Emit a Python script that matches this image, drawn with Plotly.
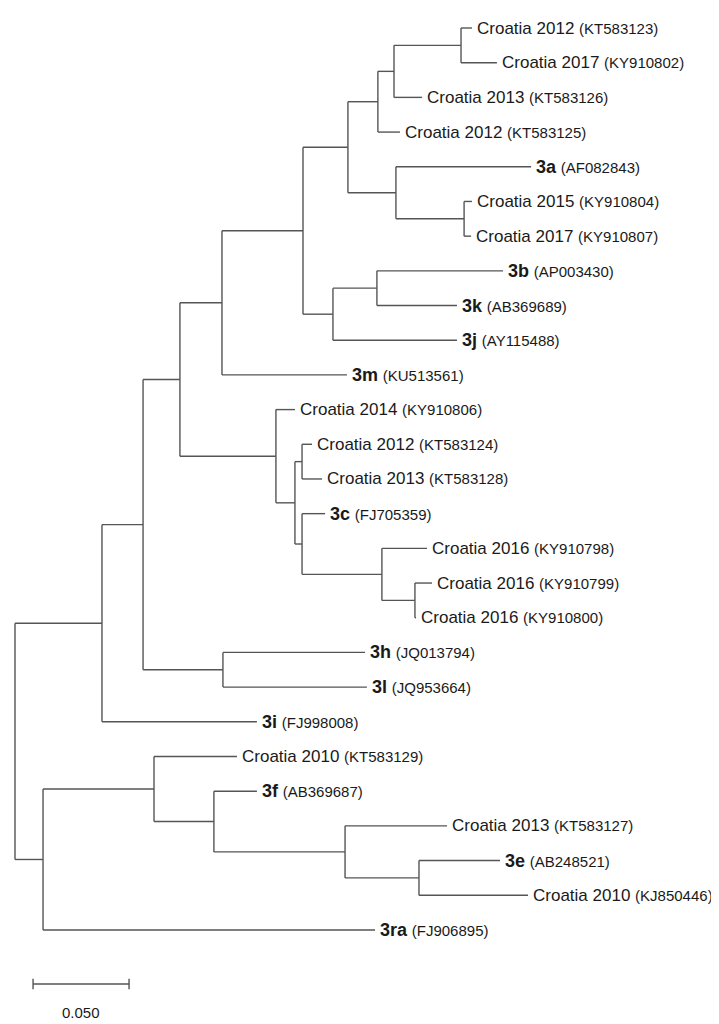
import plotly.graph_objects as go

# ---- tree data: node, parent, branch length (substitutions/site) ----
node_names = [
    "R", "N1", "N2", "N3", "N4", "N5", "N6", "N7", "N8", "N9",
    "KT583123", "KY910802", "KT583126", "KT583125",
    "N10", "3a", "N11", "KY910804", "KY910807",
    "N12", "N13", "3b", "3k", "3j", "3m",
    "N14", "KY910806", "N15", "N16", "KT583124", "KT583128",
    "N17", "3c", "N18", "KY910798", "N19", "KY910799", "KY910800",
    "N20", "3h", "3l", "3i",
    "N21", "N22", "KT583129", "N23", "3f", "N24", "KT583127",
    "N25", "3e", "KJ850446", "3ra",
]
node_parents = [
    None, "R", "N1", "N2", "N3", "N4", "N5", "N6", "N7", "N8",
    "N9", "N9", "N8", "N7",
    "N6", "N10", "N10", "N11", "N11",
    "N5", "N12", "N13", "N13", "N12", "N4",
    "N3", "N14", "N14", "N15", "N16", "N16",
    "N15", "N17", "N17", "N18", "N18", "N19", "N19",
    "N2", "N20", "N20", "N1",
    "R", "N21", "N22", "N22", "N23", "N23", "N24",
    "N24", "N25", "N25", "N21",
]
branch_lengths = [
    0.0, 0.0453, 0.0214, 0.0192, 0.0219, 0.0422, 0.0234, 0.0156, 0.0084, 0.0349,
    0.0057, 0.0187, 0.0146, 0.0115,
    0.0250, 0.0704, 0.0355, 0.0041, 0.0036,
    0.0156, 0.0229, 0.0657, 0.0417, 0.0646, 0.0651,
    0.0500, 0.0099, 0.0099, 0.0037, 0.0052, 0.0104,
    0.0037, 0.0120, 0.0416, 0.0235, 0.0172, 0.0089, 0.0006,
    0.0416, 0.0740, 0.0750, 0.0807,
    0.0146, 0.0578, 0.0432, 0.0312, 0.0224, 0.0683, 0.0531,
    0.0385, 0.0422, 0.0568, 0.1729,
]

# leaves in display order (top to bottom) with label parts
leaf_order = [
    "KT583123", "KY910802", "KT583126", "KT583125", "3a", "KY910804", "KY910807",
    "3b", "3k", "3j", "3m", "KY910806", "KT583124", "KT583128", "3c",
    "KY910798", "KY910799", "KY910800", "3h", "3l", "3i", "KT583129", "3f",
    "KT583127", "3e", "KJ850446", "3ra",
]
leaf_names = [
    "Croatia 2012", "Croatia 2017", "Croatia 2013", "Croatia 2012", "3a", "Croatia 2015", "Croatia 2017",
    "3b", "3k", "3j", "3m", "Croatia 2014", "Croatia 2012", "Croatia 2013", "3c",
    "Croatia 2016", "Croatia 2016", "Croatia 2016", "3h", "3l", "3i", "Croatia 2010", "3f",
    "Croatia 2013", "3e", "Croatia 2010", "3ra",
]
leaf_accessions = [
    "KT583123", "KY910802", "KT583126", "KT583125", "AF082843", "KY910804", "KY910807",
    "AP003430", "AB369689", "AY115488", "KU513561", "KY910806", "KT583124", "KT583128", "FJ705359",
    "KY910798", "KY910799", "KY910800", "JQ013794", "JQ953664", "FJ998008", "KT583129", "AB369687",
    "KT583127", "AB248521", "KJ850446", "FJ906895",
]
scale_value = 0.05
scale_label = "0.050"

# ---- layout computations ----
parent_of = dict(zip(node_names, node_parents))
blen = dict(zip(node_names, branch_lengths))
children = {n: [] for n in node_names}
for n, p in zip(node_names, node_parents):
    if p is not None:
        children[p].append(n)

depth = {}
def get_depth(n):
    if n in depth:
        return depth[n]
    p = parent_of[n]
    d = 0.0 if p is None else get_depth(p) + blen[n]
    depth[n] = d
    return d
for n in node_names:
    get_depth(n)

ypos = {leaf: i for i, leaf in enumerate(leaf_order)}
def get_y(n):
    if n in ypos:
        return ypos[n]
    ys = [get_y(c) for c in children[n]]
    ypos[n] = (min(ys) + max(ys)) / 2
    return ypos[n]
get_y("R")

xs, ys = [], []
for n in node_names:
    p = parent_of[n]
    if p is not None:
        xs += [depth[p], depth[n], None]
        ys += [ypos[n], ypos[n], None]
    if children[n]:
        cy = [ypos[c] for c in children[n]]
        xs += [depth[n], depth[n], None]
        ys += [min(cy), max(cy), None]

LINE = "#555555"
fig = go.Figure()
fig.add_trace(go.Scatter(x=xs, y=ys, mode="lines",
                         line=dict(color=LINE, width=1.4),
                         hoverinfo="skip", showlegend=False))

# scale bar
sb_x0 = 0.0094
sb_y = 27.56
fig.add_trace(go.Scatter(
    x=[sb_x0, sb_x0 + scale_value, None, sb_x0, sb_x0, None, sb_x0 + scale_value, sb_x0 + scale_value],
    y=[sb_y, sb_y, None, sb_y - 0.15, sb_y + 0.15, None, sb_y - 0.15, sb_y + 0.15],
    mode="lines", line=dict(color=LINE, width=1.4), hoverinfo="skip", showlegend=False))

FONT = "Liberation Sans, Arial, sans-serif"
annotations = []
for leaf, name, acc in zip(leaf_order, leaf_names, leaf_accessions):
    if name.startswith("Croatia"):
        txt = f"{name} <span style='font-size:15px'>({acc})</span>"
    else:
        txt = f"<b><span style='font-size:18px'>{name}</span></b> <span style='font-size:15px'>({acc})</span>"
    annotations.append(dict(x=depth[leaf], y=ypos[leaf], text=txt, showarrow=False,
                            xanchor="left", yanchor="middle", xshift=3,
                            font=dict(family=FONT, size=17, color="#1a1a1a")))
annotations.append(dict(x=sb_x0 + scale_value / 2, y=28.39, text=scale_label, showarrow=False,
                        xanchor="center", yanchor="middle",
                        font=dict(family=FONT, size=15, color="#1a1a1a")))

# pixel mapping (page renders the figure with an 8 px body offset)
k = 0.05 / 96.0
off = 8
fig.update_layout(
    width=719, height=1024,
    margin=dict(l=0, r=0, t=0, b=0),
    paper_bgcolor="white", plot_bgcolor="white",
    xaxis=dict(range=[(off - 15) * k, (719 + off - 15) * k], visible=False, fixedrange=True),
    yaxis=dict(range=[(1024 + off - 28) / 34.69, (off - 28) / 34.69], visible=False, fixedrange=True),
    annotations=annotations,
)
fig.write_html("out.html")
